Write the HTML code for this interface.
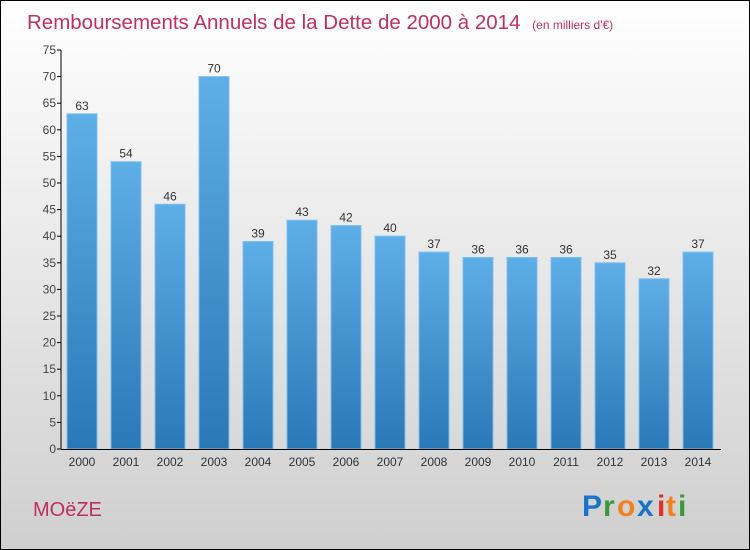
<!DOCTYPE html>
<html><head><meta charset="utf-8"><style>
body{margin:0}
svg{display:block;font-family:"Liberation Sans",sans-serif}
</style></head><body>
<svg width="750" height="550" viewBox="0 0 750 550">
<defs>
<linearGradient id="bg" x1="0" y1="0" x2="0" y2="1"><stop offset="0" stop-color="#ffffff"/><stop offset="1" stop-color="#cfcfcf"/></linearGradient>
<linearGradient id="bar" x1="0" y1="0" x2="0" y2="1"><stop offset="0" stop-color="#5eaee8"/><stop offset="1" stop-color="#2a78b6"/></linearGradient>
</defs>
<rect x="0.5" y="0.5" width="749" height="549" fill="url(#bg)" stroke="#000"/>
<text x="27" y="29" font-size="20.5" fill="#c0305f">Remboursements Annuels de la Dette de 2000 à 2014 <tspan font-size="12" dx="6">(en milliers d'€)</tspan></text>
<g id="plot"></g>
<text x="33" y="516" font-size="20" fill="#c0305f">MOëZE</text>
<g font-size="30" font-weight="bold">
<text x="582" y="516" fill="#1a73c9">P</text><text x="603" y="516" fill="#3a9a3a">r</text><text x="617" y="516" fill="#f08020">o</text><text x="637" y="516" fill="#1a73c9">x</text><text x="657" y="516" fill="#e03020">i</text><text x="666" y="516" fill="#f08020">t</text><text x="678" y="516" fill="#3a9a3a">i</text>
</g>
</svg>
<script>
const categories=["2000","2001","2002","2003","2004","2005","2006","2007","2008","2009","2010","2011","2012","2013","2014"];
const values=[63,54,46,70,39,43,42,40,37,36,36,36,35,32,37];
const yTicks=[0,5,10,15,20,25,30,35,40,45,50,55,60,65,70,75];
const ns="http://www.w3.org/2000/svg";
const g=document.getElementById('plot');
const y=v=>449-5.32*v;
const x=i=>82+44.0*i;
function mk(t,a,txt){const e=document.createElementNS(ns,t);for(const k in a)e.setAttribute(k,a[k]);if(txt!=null)e.textContent=txt;g.appendChild(e);return e;}
values.forEach((v,i)=>{
 const r=mk('rect',{x:x(i)-15,y:y(v),width:30,height:449-y(v),fill:'url(#bar)',stroke:'#7cc0f0','stroke-width':1});
 
 
 const t=mk('text',{x:x(i),y:y(v)-4,'font-size':12,fill:'#333','text-anchor':'middle'},String(v));
 
 
 const c=mk('text',{x:x(i),y:466,'font-size':12,fill:'#333','text-anchor':'middle'},categories[i]);
 
 
});
yTicks.forEach(v=>{
 const l=mk('line',{x1:57,x2:61,y1:y(v),y2:y(v),stroke:'#000'});
 
 
 const t=mk('text',{x:56,y:y(v)+4,'font-size':12,fill:'#444','text-anchor':'end'},String(v));
 
 
});
const ya=mk('line',{x1:61,x2:61,y1:y(75),y2:449,stroke:'#000'});


const xa=mk('line',{x1:61,x2:721,y1:449.5,y2:449.5,stroke:'#000'});


</script>
</body></html>
